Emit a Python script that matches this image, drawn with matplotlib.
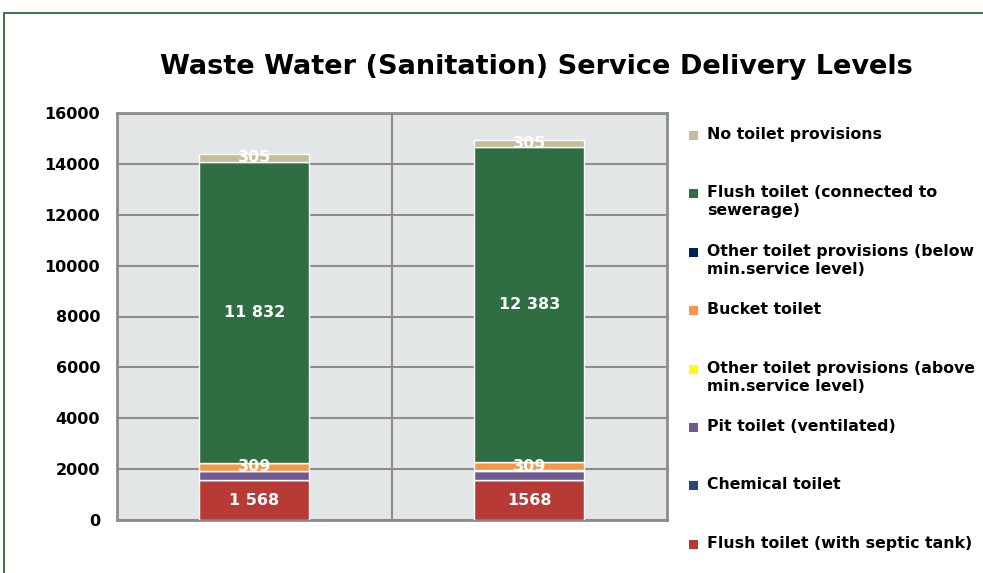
import numpy as np
import matplotlib
matplotlib.use("Agg")
import matplotlib.pyplot as plt
from matplotlib.patches import Rectangle

plt.rcParams['font.family'] = ['DejaVu Sans']
plt.rcParams['font.weight'] = 'bold'

# two reporting years (no axis labels shown)
categories = ['Year 1', 'Year 2']

# stacked from the bottom up
series_names = [
    'Flush toilet (with septic tank)',
    'Chemical toilet',
    'Pit toilet (ventilated)',
    'Other toilet provisions (above\nmin.service level)',
    'Bucket toilet',
    'Other toilet provisions (below\nmin.service level)',
    'Flush toilet (connected to\nsewerage)',
    'No toilet provisions',
]
series_colors = ['#B83A36', '#1F497D', '#6F5A92', '#FFFF00',
                 '#F79646', '#002060', '#2E6E42', '#C4BD97']

septic = [1568, 1568]
chemical = [0, 0]
pit_vent = [340, 360]
other_above = [30, 30]
bucket = [309, 309]
other_below = [0, 0]
sewerage = [11832, 12383]
no_toilet = [305, 305]

series_values = [septic, chemical, pit_vent, other_above,
                 bucket, other_below, sewerage, no_toilet]

# data labels shown on the chart: (series index, text per bar)
value_labels = {
    0: ['1 568', '1568'],
    4: ['309', '309'],
    6: ['11 832', '12 383'],
    7: ['305', '305'],
}

yticks = [0, 2000, 4000, 6000, 8000, 10000, 12000, 14000, 16000]

W, H = 983, 573
fig = plt.figure(figsize=(W / 100, H / 100), dpi=100)
fig.patch.set_facecolor('white')

# green frame around the chart area
fig.patches.append(Rectangle((4 / W, -0.05), 1.1, 1 - 13 / H + 0.05,
                             transform=fig.transFigure, fill=False,
                             edgecolor='#3E7A4E', linewidth=1.5))

ax = fig.add_axes([116.7 / W, 1 - 520 / H, (667 - 116.7) / W, (520 - 113) / H])
ax.set_facecolor('#E3E6E6')

x = np.arange(len(categories))
bottom = np.zeros(len(categories))
for i, (vals, col) in enumerate(zip(series_values, series_colors)):
    vals = np.array(vals, dtype=float)
    ax.bar(x, vals, width=0.4, bottom=bottom, color=col,
           edgecolor='white', linewidth=1.0, zorder=3)
    if i in value_labels:
        for j in range(len(x)):
            ax.text(x[j], bottom[j] + vals[j] / 2, value_labels[i][j],
                    ha='center', va='center', color='white',
                    fontsize=11.5, fontweight='bold', zorder=4)
    bottom += vals

ax.set_xlim(-0.5, len(categories) - 0.5)
ax.set_ylim(0, 16000)
ax.set_yticks(yticks)
ax.set_yticklabels([str(t) for t in yticks], fontsize=11.5, fontweight='bold')
ax.set_xticks([])
ax.tick_params(axis='y', length=0, pad=12)
ax.yaxis.grid(True, color='#8C8C8C', linewidth=1.5, zorder=0)
ax.axvline(0.5, color='#8C8C8C', linewidth=1.5, zorder=0)
for s in ax.spines.values():
    s.set_color('#8C8C8C')
    s.set_linewidth(2)

fig.text(536 / W, 1 - 67 / H, 'Waste Water (Sanitation) Service Delivery Levels',
         ha='center', va='center', fontsize=19.5, fontweight='bold')

# legend, top entry is the top of the stack
leg_y0, leg_dy = 136, 58.4
for k, idx in enumerate(range(len(series_names) - 1, -1, -1)):
    yy = leg_y0 + k * leg_dy
    fig.patches.append(Rectangle((689 / W, 1 - (yy + 4) / H), 9 / W, 9 / H,
                                 transform=fig.transFigure,
                                 facecolor=series_colors[idx], edgecolor='none'))
    fig.text(707 / W, 1 - (yy - 9) / H, series_names[idx], ha='left', va='top',
             fontsize=11.3, fontweight='bold', linespacing=1.25)

fig.savefig('out.png', dpi=100)
